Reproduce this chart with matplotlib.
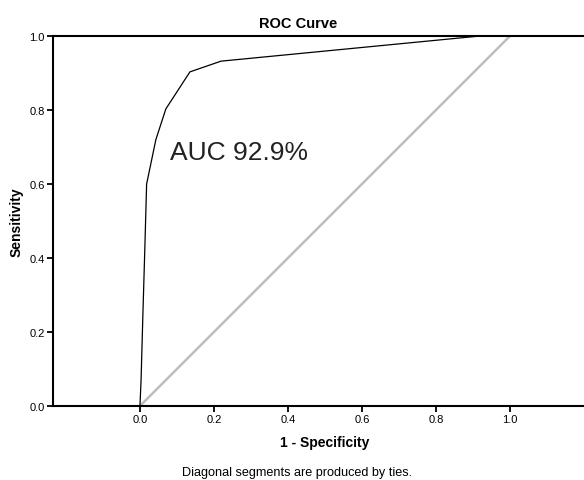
import matplotlib
matplotlib.use("Agg")
import matplotlib.pyplot as plt

plt.rcParams['font.family'] = ['Liberation Sans', 'DejaVu Sans']

# ROC points
fpr = [0.0, 0.003, 0.008, 0.013, 0.018, 0.043, 0.070, 0.135, 0.219, 0.919, 1.0]
tpr = [0.0, 0.07, 0.25, 0.42, 0.60, 0.72, 0.803, 0.903, 0.932, 1.0, 1.0]
ref_x = [0.0, 1.0]
ref_y = [0.0, 1.0]
xticks = [0.0, 0.2, 0.4, 0.6, 0.8, 1.0]
yticks = [0.0, 0.2, 0.4, 0.6, 0.8, 1.0]
auc_label = "AUC 92.9%"

fig = plt.figure(figsize=(5.84, 4.81), dpi=100)
ax = fig.add_axes([53/584, 74/481, 531/584, 370/481])

ax.plot(ref_x, ref_y, color='#bdbdbd', lw=1.8, solid_capstyle='butt')
ax.plot(fpr, tpr, color='black', lw=0.9)

ax.set_xlim(-0.235, 1.2)
ax.set_ylim(0, 1)
ax.set_xticks(xticks)
ax.set_yticks(yticks)
ax.set_xticklabels(["%.1f" % v for v in xticks])
ax.set_yticklabels(["%.1f" % v for v in yticks])
ax.tick_params(direction='out', length=4, width=1.3, labelsize=8, pad=2)

ax.spines['right'].set_visible(False)
for s in ['left', 'bottom', 'top']:
    ax.spines[s].set_linewidth(1.5)

ax.text(0.081, 0.686, auc_label, fontsize=19, va='center', ha='left', color='#222222')

fig.text(298/584, 1 - 24/481, "ROC Curve", fontsize=10.5, fontweight='bold',
         ha='center', va='center')
fig.text(325/584, 1 - 443/481, "1 - Specificity", fontsize=10, fontweight='bold',
         ha='center', va='center')
fig.text(17/584, 1 - 222/481, "Sensitivity", fontsize=10, fontweight='bold',
         ha='center', va='center', rotation=90)
fig.text(297/584, 1 - 473/481, "Diagonal segments are produced by ties.",
         fontsize=9.1, ha='center', va='center')

fig.savefig("out.png", dpi=100)
